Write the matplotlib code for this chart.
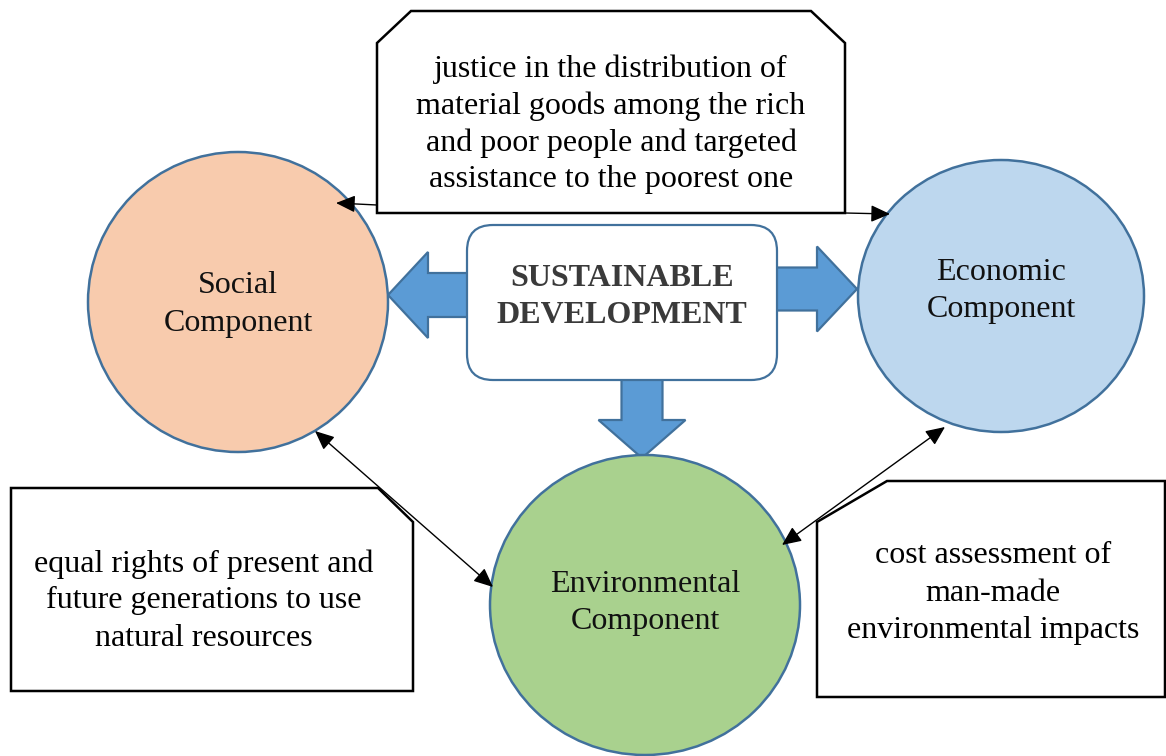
import matplotlib.pyplot as plt
from matplotlib.patches import Ellipse, Polygon, FancyBboxPatch

plt.rcParams['font.family'] = ['Liberation Serif', 'DejaVu Serif']

# Labels of the diagram
CENTER_LINES = ['SUSTAINABLE', 'DEVELOPMENT']
COMPONENT_NAMES = ['Social', 'Economic', 'Environmental']
COMPONENT_COLORS = ['#F8CBAD', '#BDD7EE', '#A9D18E']
TOP_NOTE = ['justice in the distribution of', 'material goods among the rich',
            'and poor people and targeted', 'assistance to the poorest one']
LEFT_NOTE = ['equal rights of present and', 'future generations to use', 'natural resources']
RIGHT_NOTE = ['cost assessment of', 'man-made', 'environmental impacts']

EDGE = '#41719C'
ARROW_FILL = '#5B9BD5'
FS = 23


def BlockArrow(ax, x0, y0, x1, y1, shaft, head, headLen):
    # polygon for a fat arrow from (x0, y0) to tip (x1, y1)
    dx, dy = x1 - x0, y1 - y0
    length = (dx ** 2 + dy ** 2) ** 0.5
    ux, uy = dx / length, dy / length
    px, py = -uy, ux
    bx, by = x1 - ux * headLen, y1 - uy * headLen
    pts = [(x0 + px * shaft / 2, y0 + py * shaft / 2),
           (bx + px * shaft / 2, by + py * shaft / 2),
           (bx + px * head / 2, by + py * head / 2),
           (x1, y1),
           (bx - px * head / 2, by - py * head / 2),
           (bx - px * shaft / 2, by - py * shaft / 2),
           (x0 - px * shaft / 2, y0 - py * shaft / 2)]
    ax.add_patch(Polygon(pts, closed=True, facecolor=ARROW_FILL, edgecolor=EDGE, lw=1.6, zorder=2))


def Lines(ax, lines, x, baselines, **kw):
    for line, y in zip(lines, baselines):
        ax.text(x, y, line, ha='center', va='baseline', fontsize=FS, zorder=6, **kw)


def Thin(ax, a, b, style='<|-|>'):
    ax.annotate('', xy=b, xytext=a,
                arrowprops=dict(arrowstyle=style + ',head_length=0.45,head_width=0.2',
                                color='black', lw=1.0,
                                mutation_scale=26, shrinkA=0, shrinkB=0),
                zorder=5)


def Main():
    fig = plt.figure(figsize=(11.66, 7.56), dpi=100)
    ax = fig.add_axes([0, 0, 1, 1])
    ax.set_xlim(0, 1166)
    ax.set_ylim(756, 0)
    ax.axis('off')

    # note boxes
    top = [(377, 43), (411, 11), (811, 11), (845, 43), (845, 213), (377, 213)]
    left = [(11, 488), (378, 488), (413, 522), (413, 691), (11, 691)]
    right = [(817, 522), (887, 481), (1165, 481), (1165, 697), (817, 697)]
    for pts in (top, left, right):
        ax.add_patch(Polygon(pts, closed=True, facecolor='white', edgecolor='black', lw=1.8, zorder=1))

    # component circles
    circles = [(238, 302, 300, 300), (1001, 296, 286, 272), (645, 605, 310, 300)]
    for (cx, cy, w, h), color in zip(circles, COMPONENT_COLORS):
        ax.add_patch(Ellipse((cx, cy), w, h, facecolor=color, edgecolor=EDGE, lw=1.8, zorder=3))

    # block arrows out of the centre
    BlockArrow(ax, 480, 295, 388, 295, 44, 86, 40)
    BlockArrow(ax, 765, 289, 857, 289, 43, 85, 40)
    BlockArrow(ax, 642, 370, 642, 458, 41, 87, 38)

    ax.add_patch(FancyBboxPatch((467, 225), 310, 155, boxstyle='round,pad=0,rounding_size=26',
                                facecolor='white', edgecolor=EDGE, lw=1.6, zorder=4))

    # thin connector arrows
    Thin(ax, (377, 205), (336, 203), '-|>')
    Thin(ax, (845, 213), (890, 214), '-|>')
    Thin(ax, (315, 431), (493, 587))
    Thin(ax, (945, 427), (782, 545))

    # texts
    Lines(ax, CENTER_LINES, 622, [286, 323], color='#3a3a3a', fontweight='bold')
    Lines(ax, [COMPONENT_NAMES[0], 'Component'], 238, [293, 331], color='#111111')
    Lines(ax, [COMPONENT_NAMES[1], 'Component'], 1001, [280, 317], color='#111111')
    Lines(ax, [COMPONENT_NAMES[2], 'Component'], 645, [592, 629], color='#111111')
    Lines(ax, TOP_NOTE, 611, [77, 114, 151, 187], color='black')
    Lines(ax, LEFT_NOTE, 204, [572, 608, 646], color='black')
    Lines(ax, RIGHT_NOTE, 993, [563, 601, 638], color='black')

    fig.savefig('out.png', dpi=100)


if __name__ == '__main__':
    Main()
